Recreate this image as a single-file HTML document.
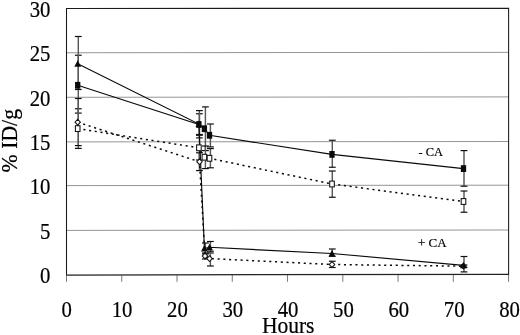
<!DOCTYPE html><html><head><meta charset="utf-8"><title>% ID/g vs Hours</title>
<style>html,body{margin:0;padding:0;background:#fff}body{width:520px;height:335px;overflow:hidden}svg{display:block}text{font-family:"Liberation Serif","Times New Roman",serif;fill:#000;stroke:#000;stroke-width:0.2px}</style></head><body>
<svg width="520" height="335" viewBox="0 0 520 335">
<rect width="520" height="335" fill="#fff"/>
<line x1="66.5" x2="508.6" y1="52.75" y2="52.35" stroke="#888" stroke-width="0.9"/>
<line x1="66.5" x2="508.6" y1="97.3" y2="96.89999999999999" stroke="#888" stroke-width="0.9"/>
<line x1="66.5" x2="508.6" y1="141.9" y2="141.5" stroke="#888" stroke-width="0.9"/>
<line x1="66.5" x2="508.6" y1="185.6" y2="185.2" stroke="#888" stroke-width="0.9"/>
<line x1="66.5" x2="508.6" y1="230.4" y2="230.0" stroke="#888" stroke-width="0.9"/>
<polyline points="66.5,275.0 66.5,8.5 508.6,8.200000000000001 508.6,274.5" fill="none" stroke="#1a1a1a" stroke-width="1.05"/>
<line x1="66.0" x2="509.1" y1="275.0" y2="274.4" stroke="#222" stroke-width="1.25"/>
<line x1="66.50" x2="66.50" y1="275.0" y2="281.8" stroke="#555" stroke-width="0.8"/>
<line x1="121.76" x2="121.76" y1="275.0" y2="281.8" stroke="#555" stroke-width="0.8"/>
<line x1="177.02" x2="177.02" y1="275.0" y2="281.8" stroke="#555" stroke-width="0.8"/>
<line x1="232.28" x2="232.28" y1="275.0" y2="281.8" stroke="#555" stroke-width="0.8"/>
<line x1="287.54" x2="287.54" y1="275.0" y2="281.8" stroke="#555" stroke-width="0.8"/>
<line x1="342.80" x2="342.80" y1="275.0" y2="281.8" stroke="#555" stroke-width="0.8"/>
<line x1="398.06" x2="398.06" y1="275.0" y2="281.8" stroke="#555" stroke-width="0.8"/>
<line x1="453.32" x2="453.32" y1="275.0" y2="281.8" stroke="#555" stroke-width="0.8"/>
<line x1="508.58" x2="508.58" y1="275.0" y2="281.8" stroke="#555" stroke-width="0.8"/>
<text transform="translate(50.4,16.70) scale(0.965,1.07)" font-size="21.5" text-anchor="end">30</text>
<text transform="translate(50.4,61.15) scale(0.965,1.07)" font-size="21.5" text-anchor="end">25</text>
<text transform="translate(50.4,105.70) scale(0.965,1.07)" font-size="21.5" text-anchor="end">20</text>
<text transform="translate(50.4,150.30) scale(0.965,1.07)" font-size="21.5" text-anchor="end">15</text>
<text transform="translate(50.4,194.00) scale(0.965,1.07)" font-size="21.5" text-anchor="end">10</text>
<text transform="translate(50.4,238.80) scale(0.965,1.07)" font-size="21.5" text-anchor="end">5</text>
<text transform="translate(50.4,283.40) scale(0.965,1.07)" font-size="21.5" text-anchor="end">0</text>
<text transform="translate(66.70,316.6) scale(0.965,1.07)" font-size="21.5" text-anchor="middle">0</text>
<text transform="translate(122.05,316.6) scale(0.965,1.07)" font-size="21.5" text-anchor="middle">10</text>
<text transform="translate(177.40,316.6) scale(0.965,1.07)" font-size="21.5" text-anchor="middle">20</text>
<text transform="translate(232.75,316.6) scale(0.965,1.07)" font-size="21.5" text-anchor="middle">30</text>
<text transform="translate(288.10,316.6) scale(0.965,1.07)" font-size="21.5" text-anchor="middle">40</text>
<text transform="translate(343.45,316.6) scale(0.965,1.07)" font-size="21.5" text-anchor="middle">50</text>
<text transform="translate(398.80,316.6) scale(0.965,1.07)" font-size="21.5" text-anchor="middle">60</text>
<text transform="translate(454.15,316.6) scale(0.965,1.07)" font-size="21.5" text-anchor="middle">70</text>
<text transform="translate(509.50,316.6) scale(0.965,1.07)" font-size="21.5" text-anchor="middle">80</text>
<text transform="translate(288.2,333.3) scale(1,1.04)" font-size="21.5" text-anchor="middle">Hours</text>
<text transform="translate(16.6,140.7) rotate(-90) scale(1.012,1.09)" font-size="21.5" text-anchor="middle">% ID/g</text>
<text x="418.5" y="156.0" font-size="12.4">- CA</text>
<text transform="translate(418,247.4) scale(1.05,1)" font-size="12.4">+ CA</text>
<line x1="78.3" x2="78.3" y1="55.25" y2="113.1" stroke="#585858" stroke-width="1.45"/>
<line x1="74.90" x2="81.70" y1="55.25" y2="55.25" stroke="#111" stroke-width="1.2"/>
<line x1="74.90" x2="81.70" y1="113.1" y2="113.1" stroke="#111" stroke-width="1.2"/>
<line x1="199.4" x2="199.4" y1="113.75" y2="135.3" stroke="#585858" stroke-width="1.45"/>
<line x1="196.00" x2="202.80" y1="113.75" y2="113.75" stroke="#111" stroke-width="1.2"/>
<line x1="196.00" x2="202.80" y1="135.3" y2="135.3" stroke="#111" stroke-width="1.2"/>
<line x1="205.4" x2="205.4" y1="106.9" y2="150.6" stroke="#585858" stroke-width="1.45"/>
<line x1="202.00" x2="208.80" y1="106.9" y2="106.9" stroke="#111" stroke-width="1.2"/>
<line x1="202.00" x2="208.80" y1="150.6" y2="150.6" stroke="#111" stroke-width="1.2"/>
<line x1="210.4" x2="210.4" y1="124.0" y2="146.9" stroke="#585858" stroke-width="1.45"/>
<line x1="207.00" x2="213.80" y1="124.0" y2="124.0" stroke="#111" stroke-width="1.2"/>
<line x1="207.00" x2="213.80" y1="146.9" y2="146.9" stroke="#111" stroke-width="1.2"/>
<line x1="332.3" x2="332.3" y1="140.25" y2="167.25" stroke="#585858" stroke-width="1.45"/>
<line x1="328.90" x2="335.70" y1="140.25" y2="140.25" stroke="#111" stroke-width="1.2"/>
<line x1="328.90" x2="335.70" y1="167.25" y2="167.25" stroke="#111" stroke-width="1.2"/>
<line x1="464.0" x2="464.0" y1="150.6" y2="186.25" stroke="#585858" stroke-width="1.45"/>
<line x1="460.60" x2="467.40" y1="150.6" y2="150.6" stroke="#111" stroke-width="1.2"/>
<line x1="460.60" x2="467.40" y1="186.25" y2="186.25" stroke="#111" stroke-width="1.2"/>
<line x1="78.3" x2="78.3" y1="36.5" y2="89.5" stroke="#585858" stroke-width="1.45"/>
<line x1="74.90" x2="81.70" y1="36.5" y2="36.5" stroke="#111" stroke-width="1.2"/>
<line x1="74.90" x2="81.70" y1="89.5" y2="89.5" stroke="#111" stroke-width="1.2"/>
<line x1="199.4" x2="199.4" y1="110.6" y2="137.9" stroke="#585858" stroke-width="1.45"/>
<line x1="196.00" x2="202.80" y1="110.6" y2="110.6" stroke="#111" stroke-width="1.2"/>
<line x1="196.00" x2="202.80" y1="137.9" y2="137.9" stroke="#111" stroke-width="1.2"/>
<line x1="205.4" x2="205.4" y1="243.0" y2="254.0" stroke="#585858" stroke-width="1.45"/>
<line x1="202.00" x2="208.80" y1="243.0" y2="243.0" stroke="#111" stroke-width="1.2"/>
<line x1="202.00" x2="208.80" y1="254.0" y2="254.0" stroke="#111" stroke-width="1.2"/>
<line x1="210.4" x2="210.4" y1="241.5" y2="253.0" stroke="#585858" stroke-width="1.45"/>
<line x1="207.00" x2="213.80" y1="241.5" y2="241.5" stroke="#111" stroke-width="1.2"/>
<line x1="207.00" x2="213.80" y1="253.0" y2="253.0" stroke="#111" stroke-width="1.2"/>
<line x1="332.3" x2="332.3" y1="249.0" y2="256.3" stroke="#585858" stroke-width="1.45"/>
<line x1="328.90" x2="335.70" y1="249.0" y2="249.0" stroke="#111" stroke-width="1.2"/>
<line x1="328.90" x2="335.70" y1="256.3" y2="256.3" stroke="#111" stroke-width="1.2"/>
<line x1="464.0" x2="464.0" y1="256.5" y2="271.9" stroke="#585858" stroke-width="1.45"/>
<line x1="460.60" x2="467.40" y1="256.5" y2="256.5" stroke="#111" stroke-width="1.2"/>
<line x1="460.60" x2="467.40" y1="271.9" y2="271.9" stroke="#111" stroke-width="1.2"/>
<line x1="78.3" x2="78.3" y1="108.75" y2="148.4" stroke="#585858" stroke-width="1.45"/>
<line x1="74.90" x2="81.70" y1="108.75" y2="108.75" stroke="#111" stroke-width="1.2"/>
<line x1="74.90" x2="81.70" y1="148.4" y2="148.4" stroke="#111" stroke-width="1.2"/>
<line x1="199.4" x2="199.4" y1="134.5" y2="160.0" stroke="#585858" stroke-width="1.45"/>
<line x1="196.00" x2="202.80" y1="134.5" y2="134.5" stroke="#111" stroke-width="1.2"/>
<line x1="196.00" x2="202.80" y1="160.0" y2="160.0" stroke="#111" stroke-width="1.2"/>
<line x1="205.4" x2="205.4" y1="146.0" y2="168.6" stroke="#585858" stroke-width="1.45"/>
<line x1="202.00" x2="208.80" y1="146.0" y2="146.0" stroke="#111" stroke-width="1.2"/>
<line x1="202.00" x2="208.80" y1="168.6" y2="168.6" stroke="#111" stroke-width="1.2"/>
<line x1="210.4" x2="210.4" y1="148.6" y2="167.8" stroke="#585858" stroke-width="1.45"/>
<line x1="207.00" x2="213.80" y1="148.6" y2="148.6" stroke="#111" stroke-width="1.2"/>
<line x1="207.00" x2="213.80" y1="167.8" y2="167.8" stroke="#111" stroke-width="1.2"/>
<line x1="332.3" x2="332.3" y1="171.0" y2="197.25" stroke="#585858" stroke-width="1.45"/>
<line x1="328.90" x2="335.70" y1="171.0" y2="171.0" stroke="#111" stroke-width="1.2"/>
<line x1="328.90" x2="335.70" y1="197.25" y2="197.25" stroke="#111" stroke-width="1.2"/>
<line x1="464.0" x2="464.0" y1="191.0" y2="212.25" stroke="#585858" stroke-width="1.45"/>
<line x1="460.60" x2="467.40" y1="191.0" y2="191.0" stroke="#111" stroke-width="1.2"/>
<line x1="460.60" x2="467.40" y1="212.25" y2="212.25" stroke="#111" stroke-width="1.2"/>
<line x1="78.3" x2="78.3" y1="98.5" y2="145.6" stroke="#585858" stroke-width="1.45"/>
<line x1="74.90" x2="81.70" y1="98.5" y2="98.5" stroke="#111" stroke-width="1.2"/>
<line x1="74.90" x2="81.70" y1="145.6" y2="145.6" stroke="#111" stroke-width="1.2"/>
<line x1="199.4" x2="199.4" y1="152.8" y2="170.6" stroke="#585858" stroke-width="1.45"/>
<line x1="196.00" x2="202.80" y1="152.8" y2="152.8" stroke="#111" stroke-width="1.2"/>
<line x1="196.00" x2="202.80" y1="170.6" y2="170.6" stroke="#111" stroke-width="1.2"/>
<line x1="205.4" x2="205.4" y1="253.0" y2="259.0" stroke="#585858" stroke-width="1.45"/>
<line x1="202.00" x2="208.80" y1="253.0" y2="253.0" stroke="#111" stroke-width="1.2"/>
<line x1="202.00" x2="208.80" y1="259.0" y2="259.0" stroke="#111" stroke-width="1.2"/>
<line x1="210.4" x2="210.4" y1="251.2" y2="266.0" stroke="#585858" stroke-width="1.45"/>
<line x1="207.00" x2="213.80" y1="251.2" y2="251.2" stroke="#111" stroke-width="1.2"/>
<line x1="207.00" x2="213.80" y1="266.0" y2="266.0" stroke="#111" stroke-width="1.2"/>
<line x1="332.3" x2="332.3" y1="261.25" y2="267.5" stroke="#585858" stroke-width="1.45"/>
<line x1="328.90" x2="335.70" y1="261.25" y2="261.25" stroke="#111" stroke-width="1.2"/>
<line x1="328.90" x2="335.70" y1="267.5" y2="267.5" stroke="#111" stroke-width="1.2"/>
<line x1="464.0" x2="464.0" y1="265.0" y2="267.5" stroke="#585858" stroke-width="1.45"/>
<line x1="460.60" x2="467.40" y1="265.0" y2="265.0" stroke="#111" stroke-width="1.2"/>
<line x1="460.60" x2="467.40" y1="267.5" y2="267.5" stroke="#111" stroke-width="1.2"/>
<polyline points="77.70,128.60 198.90,147.80 204.40,157.20 209.50,158.30 332.00,184.00 463.50,201.50" fill="none" stroke="#0a0a0a" stroke-width="1.5" stroke-dasharray="2.1 3.65"/>
<polyline points="77.70,122.20 199.50,161.75 205.00,256.00 209.50,258.60 332.00,264.50 463.50,266.20" fill="none" stroke="#0a0a0a" stroke-width="1.5" stroke-dasharray="2.1 3.65"/>
<polyline points="77.70,85.30 198.90,124.50 204.40,128.75 209.50,135.30 332.00,154.40 463.50,168.60" fill="none" stroke="#0a0a0a" stroke-width="1.15"/>
<polyline points="77.70,63.80 198.90,124.00 204.40,248.50 209.50,247.30 332.00,253.50 463.50,265.40" fill="none" stroke="#0a0a0a" stroke-width="1.15"/>
<rect x="75.40" y="125.70" width="4.6" height="5.8" fill="#fff" stroke="#111" stroke-width="1.05"/>
<rect x="196.60" y="144.90" width="4.6" height="5.8" fill="#fff" stroke="#111" stroke-width="1.05"/>
<rect x="202.10" y="154.30" width="4.6" height="5.8" fill="#fff" stroke="#111" stroke-width="1.05"/>
<rect x="207.20" y="155.40" width="4.6" height="5.8" fill="#fff" stroke="#111" stroke-width="1.05"/>
<rect x="329.70" y="181.10" width="4.6" height="5.8" fill="#fff" stroke="#111" stroke-width="1.05"/>
<rect x="461.20" y="198.60" width="4.6" height="5.8" fill="#fff" stroke="#111" stroke-width="1.05"/>
<polygon points="77.70,119.30 80.40,122.20 77.70,125.10 75.00,122.20" fill="#fff" stroke="#111" stroke-width="1.05"/>
<polygon points="199.50,158.85 202.20,161.75 199.50,164.65 196.80,161.75" fill="#fff" stroke="#111" stroke-width="1.05"/>
<polygon points="205.00,253.10 207.70,256.00 205.00,258.90 202.30,256.00" fill="#fff" stroke="#111" stroke-width="1.05"/>
<polygon points="209.50,255.70 212.20,258.60 209.50,261.50 206.80,258.60" fill="#fff" stroke="#111" stroke-width="1.05"/>
<polygon points="332.00,261.60 334.70,264.50 332.00,267.40 329.30,264.50" fill="#fff" stroke="#111" stroke-width="1.05"/>
<polygon points="463.50,263.30 466.20,266.20 463.50,269.10 460.80,266.20" fill="#fff" stroke="#111" stroke-width="1.05"/>
<rect x="75.05" y="81.90" width="5.3" height="6.8" fill="#0a0a0a"/>
<rect x="196.25" y="121.10" width="5.3" height="6.8" fill="#0a0a0a"/>
<rect x="201.75" y="125.35" width="5.3" height="6.8" fill="#0a0a0a"/>
<rect x="206.85" y="131.90" width="5.3" height="6.8" fill="#0a0a0a"/>
<rect x="329.35" y="151.00" width="5.3" height="6.8" fill="#0a0a0a"/>
<rect x="460.85" y="165.20" width="5.3" height="6.8" fill="#0a0a0a"/>
<polygon points="77.70,60.20 81.10,66.70 74.30,66.70" fill="#0a0a0a"/>
<polygon points="198.90,120.40 202.30,126.90 195.50,126.90" fill="#0a0a0a"/>
<polygon points="204.40,244.90 207.80,251.40 201.00,251.40" fill="#0a0a0a"/>
<polygon points="209.50,243.70 212.90,250.20 206.10,250.20" fill="#0a0a0a"/>
<polygon points="332.00,249.90 335.40,256.40 328.60,256.40" fill="#0a0a0a"/>
<polygon points="463.50,261.80 466.90,268.30 460.10,268.30" fill="#0a0a0a"/>
</svg></body></html>
